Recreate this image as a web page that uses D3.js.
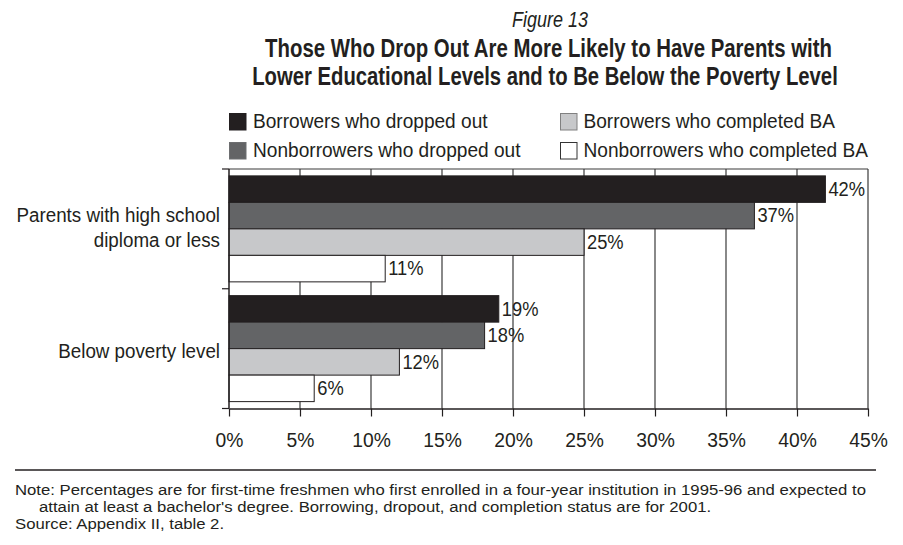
<!DOCTYPE html>
<html>
<head>
<meta charset="utf-8">
<script src="https://cdn.jsdelivr.net/npm/d3@7"></script>
<style>
  body { margin: 0; background: #fff; }
  svg { display: block; }
  text { font-family: "Liberation Sans", Arial, sans-serif; fill: #231f20; }
</style>
</head>
<body>
<div id="chart"></div>
<script>
// 資料
const categories = ["Parents with high school diploma or less", "Below poverty level"];
const categoryLines = [["Parents with high school", "diploma or less"], ["Below poverty level"]];
const seriesNames = ["Borrowers who dropped out", "Nonborrowers who dropped out", "Borrowers who completed BA", "Nonborrowers who completed BA"];
const parentsValues = [42, 37, 25, 11];
const povertyValues = [19, 18, 12, 6];
const tickValues = [0, 5, 10, 15, 20, 25, 30, 35, 40, 45];
const seriesColors = ["#231f20", "#636466", "#c7c8ca", "#ffffff"];

const W = 903, H = 545;
const plot = { left: 229, right: 868, top: 169, bottom: 408.5 };

const rows = categories.map((c, i) => ({
    category: c,
    lines: categoryLines[i],
    values: (i === 0 ? parentsValues : povertyValues).map((v, j) => ({ series: seriesNames[j], value: v }))
}));

const svg = d3.select("#chart").append("svg")
    .attr("width", W)
    .attr("height", H);

// 沒有窄體字型，用水平縮放模擬 condensed 字
function condense(sel, k) {
    sel.each(function () {
        const t = d3.select(this);
        const x = +t.attr("x") || 0, y = +t.attr("y") || 0;
        t.attr("x", 0).attr("y", 0)
            .attr("transform", `translate(${x},${y}) scale(${k},1)`);
    });
}
// 依目標寬度縮放
function fitWidth(sel, target) {
    const k = target / sel.node().getComputedTextLength();
    condense(sel, k);
    return k;
}

const x = d3.scaleLinear().domain([0, 45]).range([plot.left, plot.right]);
const y0 = d3.scaleBand().domain(categories).range([plot.top, plot.bottom]).padding(0);
const y1 = d3.scaleBand().domain(seriesNames).range([0, y0.bandwidth()]).paddingInner(0).paddingOuter(0.26);
const color = d3.scaleOrdinal().domain(seriesNames).range(seriesColors);

// 標題
const fig = svg.append("text")
    .attr("x", 550).attr("y", 27)
    .attr("text-anchor", "middle")
    .style("font-size", "22px")
    .style("font-style", "italic")
    .text("Figure 13");
fitWidth(fig, 76);

const titleLines = ["Those Who Drop Out Are More Likely to Have Parents with",
    "Lower Educational Levels and to Be Below the Poverty Level"];
const titleX = [548.5, 545], titleW = [567, 586];
svg.selectAll(".title")
    .data(titleLines)
    .enter().append("text")
    .attr("class", "title")
    .attr("x", (d, i) => titleX[i])
    .attr("y", (d, i) => 57 + i * 28)
    .attr("text-anchor", "middle")
    .style("font-size", "26px")
    .style("font-weight", "bold")
    .text(d => d)
    .each(function (d, i) { fitWidth(d3.select(this), titleW[i]); });

// 圖例
const legendPos = [[229, 113], [229, 142], [560, 113], [560, 142]];
const legendStroke = ["#231f20", "#6d6e70", "#808080", "#333"];
const legend = svg.selectAll(".legend")
    .data(seriesNames)
    .enter().append("g")
    .attr("class", "legend")
    .attr("transform", (d, i) => `translate(${legendPos[i][0]},${legendPos[i][1]})`);

legend.append("rect")
    .attr("x", 0.5).attr("y", 0.5)
    .attr("width", 16.5).attr("height", 16.5)
    .attr("fill", d => color(d))
    .attr("stroke", (d, i) => legendStroke[i])
    .attr("stroke-width", 1);

legend.append("text")
    .attr("x", (d, i) => i < 2 ? 24 : 23.5)
    .attr("y", 15)
    .style("font-size", "21px")
    .text(d => d)
    .call(condense, 0.91);

// 格線
svg.append("g")
    .selectAll("line")
    .data(tickValues.slice(1))
    .enter().append("line")
    .attr("x1", d => x(d)).attr("x2", d => x(d))
    .attr("y1", plot.top).attr("y2", plot.bottom)
    .attr("stroke", "#3a3a3a")
    .attr("stroke-width", 1.2);

// 上框線
svg.append("line")
    .attr("x1", plot.left).attr("x2", plot.right)
    .attr("y1", plot.top).attr("y2", plot.top)
    .attr("stroke", "#3a3a3a")
    .attr("stroke-width", 1.2);

// 長條
const groups = svg.selectAll(".group")
    .data(rows)
    .enter().append("g")
    .attr("class", "group")
    .attr("transform", d => `translate(0,${y0(d.category)})`);

groups.selectAll("rect")
    .data(d => d.values)
    .enter().append("rect")
    .attr("x", x(0))
    .attr("y", d => y1(d.series))
    .attr("width", d => x(d.value) - x(0))
    .attr("height", y1.bandwidth())
    .attr("fill", d => color(d.series))
    .attr("stroke", "#231f20")
    .attr("stroke-width", 1);

groups.selectAll(".val")
    .data(d => d.values)
    .enter().append("text")
    .attr("class", "val")
    .attr("x", d => x(d.value) + 3)
    .attr("y", d => y1(d.series) + y1.bandwidth() / 2)
    .attr("dy", "0.35em")
    .style("font-size", "19.5px")
    .text(d => d.value + "%")
    .call(condense, 0.94);

// X 軸
const xAxis = svg.append("g")
    .attr("transform", `translate(0,${plot.bottom})`)
    .call(d3.axisBottom(x).tickValues(tickValues).tickFormat(d => d + "%").tickSize(8).tickPadding(15.6).tickSizeOuter(0));
xAxis.select(".domain").attr("stroke", "#231f20").attr("stroke-width", 1.5);
xAxis.selectAll(".tick line").attr("stroke", "#231f20").attr("stroke-width", 1.2);
xAxis.selectAll("text")
    .style("font-size", "21px")
    .style("font-family", "\"Liberation Sans\", Arial, sans-serif")
    .attr("fill", "#231f20")
    .call(condense, 0.92);

// Y 軸
svg.append("line")
    .attr("x1", plot.left).attr("x2", plot.left)
    .attr("y1", plot.top).attr("y2", plot.bottom)
    .attr("stroke", "#231f20").attr("stroke-width", 1.5);

const boundaries = [plot.top].concat(categories.map(c => y0(c) + y0.bandwidth()));
svg.selectAll(".ytick")
    .data(boundaries)
    .enter().append("line")
    .attr("class", "ytick")
    .attr("x1", plot.left - 7).attr("x2", plot.left)
    .attr("y1", d => d).attr("y2", d => d)
    .attr("stroke", "#231f20")
    .attr("stroke-width", 1.2);

const catLabels = svg.selectAll(".cat")
    .data(rows)
    .enter().append("text")
    .attr("class", "cat")
    .attr("text-anchor", "end")
    .attr("x", 220)
    .attr("y", d => y0(d.category) + y0.bandwidth() / 2)
    .style("font-size", "21px");

catLabels.selectAll("tspan")
    .data(d => d.lines.map((t, i) => ({ t, i, n: d.lines.length })))
    .enter().append("tspan")
    .attr("x", 0)
    .attr("y", d => (d.i - (d.n - 1) / 2) * 25 - (d.n - 1) * 4)
    .attr("dy", "0.45em")
    .text(d => d.t);
catLabels.call(condense, 0.895);

// 附註
svg.append("line")
    .attr("x1", 15).attr("x2", 876)
    .attr("y1", 470).attr("y2", 470)
    .attr("stroke", "#231f20").attr("stroke-width", 1.5);

const notes = [
    { x: 15, y: 494.5, t: "Note: Percentages are for first-time freshmen who first enrolled in a four-year institution in 1995-96 and expected to" },
    { x: 39, y: 511.5, t: "attain at least a bachelor's degree. Borrowing, dropout, and completion status are for 2001." },
    { x: 15, y: 528.5, t: "Source: Appendix II, table 2." }
];
const noteText = svg.selectAll(".note")
    .data(notes)
    .enter().append("text")
    .attr("class", "note")
    .attr("x", d => d.x)
    .attr("y", d => d.y)
    .style("font-size", "15.5px")
    .text(d => d.t);
const kNote = fitWidth(d3.select(noteText.nodes()[0]), 852);
condense(d3.selectAll(noteText.nodes().slice(1)), kNote);
</script>
</body>
</html>
